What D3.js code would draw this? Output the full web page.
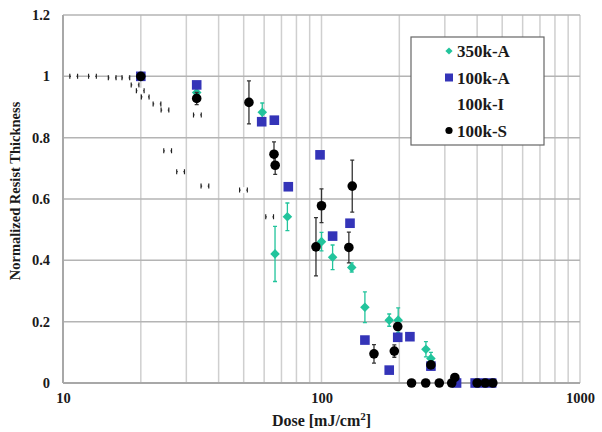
<!DOCTYPE html>
<html>
<head>
<meta charset="utf-8">
<script src="https://cdn.jsdelivr.net/npm/d3@7"></script>
<style>
  body { margin: 0; background: #fff; }
  text { font-family: "Liberation Serif", "Times New Roman", serif; font-weight: bold; fill: #1a1a1a; }
</style>
</head>
<body>
<svg id="chart" width="602" height="432"></svg>
<script>
// ---- data ----
const xTicks = [10, 100, 1000];
const xMinor = [20, 30, 40, 50, 60, 70, 80, 90, 200, 300, 400, 500, 600, 700, 800, 900];
const yTicks = [0, 0.2, 0.4, 0.6, 0.8, 1, 1.2];

// 100k-I (white markers, small horizontal error bars)
const doseI  = [11, 13, 15.5, 17.5, 19, 19.9, 20.8, 23.1, 24.8, 25.4, 28.5, 33.1, 35.4, 49.9, 63];
const thickI = [1.0, 1.0, 0.995, 0.995, 0.972, 0.953, 0.933, 0.91, 0.89, 0.757, 0.689, 0.874, 0.642, 0.629, 0.542];

// 350k-A
const doseA350  = [20, 32.9, 59, 66.1, 73.8, 100, 110.4, 130.9, 147.2, 182.8, 198, 253.5, 265];
const thickA350 = [1.0, 0.947, 0.883, 0.421, 0.542, 0.461, 0.41, 0.377, 0.247, 0.205, 0.205, 0.11, 0.08];
const errA350   = [0, 0.02, 0.03, 0.09, 0.045, 0.03, 0.04, 0.015, 0.05, 0.02, 0.04, 0.025, 0.02];

// 100k-A
const doseA100  = [20, 32.9, 58.7, 65.7, 74.4, 98.7, 110.4, 128.9, 147.2, 182.8, 197.2, 219.8, 265, 333, 393, 420, 455];
const thickA100 = [1.0, 0.972, 0.852, 0.857, 0.64, 0.744, 0.479, 0.521, 0.14, 0.042, 0.149, 0.151, 0.055, 0, 0, 0, 0];

// 100k-S
const doseS  = [20, 32.9, 52.4, 65.5, 66.2, 95.2, 100, 127.6, 131.5, 159.6, 191.3, 197.2, 223, 253, 265, 285.5, 319, 328, 400, 430, 460];
const thickS = [1.0, 0.928, 0.915, 0.746, 0.71, 0.444, 0.578, 0.442, 0.642, 0.095, 0.104, 0.184, 0, 0, 0.059, 0, 0, 0.018, 0, 0, 0];
const errS   = [0, 0.02, 0.07, 0.04, 0.03, 0.095, 0.055, 0.05, 0.085, 0.03, 0.02, 0.01, 0, 0, 0.01, 0, 0, 0.01, 0, 0, 0];

const legendNames = ["350k-A", "100k-A", "100k-I", "100k-S"];

const teal = "#22c49c", blue = "#3434b8";

const svg = d3.select("#chart"),
      margin = {top: 15, right: 22, bottom: 49, left: 63},
      width = 602 - margin.left - margin.right,
      height = 432 - margin.top - margin.bottom;

const x = d3.scaleLog().domain([10, 1000]).range([0, width]);
const y = d3.scaleLinear().domain([0, 1.2]).range([height, 0]);

const g = svg.append("g").attr("transform", `translate(${margin.left},${margin.top})`);

// gridlines
g.append("g").selectAll("line")
  .data(xMinor.concat(xTicks))
  .join("line")
  .attr("x1", d => x(d)).attr("x2", d => x(d))
  .attr("y1", 0).attr("y2", height)
  .attr("stroke", "#cfcfcf").attr("stroke-width", 1.5);

g.append("g").selectAll("line")
  .data(yTicks)
  .join("line")
  .attr("x1", 0).attr("x2", width)
  .attr("y1", d => y(d)).attr("y2", d => y(d))
  .attr("stroke", "#b4b4b4").attr("stroke-width", 1.5);

// frame
g.append("line").attr("x1", 0).attr("x2", 0).attr("y1", 0).attr("y2", height)
  .attr("stroke", "#a8a8a8").attr("stroke-width", 2);
g.append("line").attr("x1", 0).attr("x2", width).attr("y1", height).attr("y2", height)
  .attr("stroke", "#a8a8a8").attr("stroke-width", 2);

// axes (labels only)
const xAxis = d3.axisBottom(x).tickValues(xTicks).tickFormat(d3.format("d")).tickSize(0).tickPadding(10);
g.append("g").attr("transform", `translate(0,${height})`).call(xAxis)
  .call(a => a.select(".domain").remove())
  .selectAll("text").style("font-size", "14.5px").attr("fill", "#1a1a1a");

const yAxis = d3.axisLeft(y).tickValues(yTicks).tickFormat(d => d3.format("")(+d.toFixed(1))).tickSize(0).tickPadding(13);
g.append("g").call(yAxis)
  .call(a => a.select(".domain").remove())
  .selectAll("text").style("font-size", "14.5px").attr("fill", "#1a1a1a");

// axis titles
svg.append("text")
  .attr("x", margin.left + x(100)).attr("y", 426)
  .attr("text-anchor", "middle").style("font-size", "16px")
  .html('Dose [mJ/cm<tspan dy="-6" style="font-size:11px">2</tspan><tspan dy="6">]</tspan>');

svg.append("text")
  .attr("transform", `translate(20,${margin.top + height / 2 - 8}) rotate(-90)`)
  .attr("text-anchor", "middle").style("font-size", "14.5px")
  .text("Normalized Resist Thickness");

// 100k-I : white markers with small horizontal error bars
const ptsI = doseI.map((d, i) => ({d, t: thickI[i]}));
const gi = g.append("g");
gi.selectAll("path.eb").data(ptsI).join("path")
  .attr("d", p => {
    const x0 = x(p.d / 1.035), x1 = x(p.d * 1.035), yy = y(p.t);
    return `M${x0},${yy - 2.5}V${yy + 2.5}M${x0},${yy}H${x1}M${x1},${yy - 2.5}V${yy + 2.5}`;
  })
  .attr("stroke", "#222").attr("stroke-width", 1.2).attr("fill", "none");
gi.selectAll("rect").data(ptsI).join("rect")
  .attr("x", p => x(p.d) - 2.8).attr("y", p => y(p.t) - 3)
  .attr("width", 5.6).attr("height", 6).attr("fill", "#fff");

// 350k-A : teal diamonds
const ptsA350 = doseA350.map((d, i) => ({d, t: thickA350[i], e: errA350[i]}));
const ga = g.append("g");
ga.selectAll("path.eb").data(ptsA350.filter(p => p.e > 0)).join("path")
  .attr("d", p => {
    const xx = x(p.d), y0 = y(p.t - p.e), y1 = y(p.t + p.e);
    return `M${xx},${y0}V${y1}M${xx - 2},${y0}H${xx + 2}M${xx - 2},${y1}H${xx + 2}`;
  })
  .attr("stroke", teal).attr("stroke-width", 1.3).attr("fill", "none");
ga.selectAll("path.m").data(ptsA350).join("path")
  .attr("transform", p => `translate(${x(p.d)},${y(p.t)}) rotate(45)`)
  .attr("d", d3.symbol(d3.symbolSquare, 46))
  .attr("fill", teal);

// 100k-A : blue squares
const ptsA100 = doseA100.map((d, i) => ({d, t: thickA100[i]}));
g.append("g").selectAll("rect").data(ptsA100).join("rect")
  .attr("x", p => x(p.d) - 4.8).attr("y", p => y(p.t) - 4.8)
  .attr("width", 9.6).attr("height", 9.6).attr("fill", blue);

// 100k-S : black circles
const ptsS = doseS.map((d, i) => ({d, t: thickS[i], e: errS[i]}));
const gs = g.append("g");
gs.selectAll("path.eb").data(ptsS.filter(p => p.e > 0)).join("path")
  .attr("d", p => {
    const xx = x(p.d), y0 = y(Math.max(0, p.t - p.e)), y1 = y(p.t + p.e);
    return `M${xx},${y0}V${y1}M${xx - 2},${y0}H${xx + 2}M${xx - 2},${y1}H${xx + 2}`;
  })
  .attr("stroke", "#333").attr("stroke-width", 1.3).attr("fill", "none");
gs.selectAll("circle").data(ptsS).join("circle")
  .attr("cx", p => x(p.d)).attr("cy", p => y(p.t)).attr("r", 4.8)
  .attr("fill", "#000");

// legend
const lg = svg.append("g").attr("transform", "translate(411,37)");
lg.append("rect").attr("width", 133).attr("height", 108)
  .attr("fill", "#fff").attr("stroke", "#666").attr("stroke-width", 1.2);
const items = lg.selectAll("g.item").data(legendNames).join("g")
  .attr("transform", (d, i) => `translate(0,${14 + i * 26.5})`);
items.append("text").attr("x", 46).attr("y", 6).style("font-size", "17px").text(d => d);
items.each(function(d, i) {
  const s = d3.select(this);
  if (i === 0) s.append("path").attr("transform", "translate(38,0) rotate(45)").attr("d", d3.symbol(d3.symbolSquare, 26)).attr("fill", teal);
  if (i === 1) s.append("rect").attr("x", 34).attr("y", -4).attr("width", 8).attr("height", 8).attr("fill", blue);
  if (i === 3) s.append("circle").attr("cx", 38).attr("cy", 0).attr("r", 3.6).attr("fill", "#000");
});
</script>
</body>
</html>
